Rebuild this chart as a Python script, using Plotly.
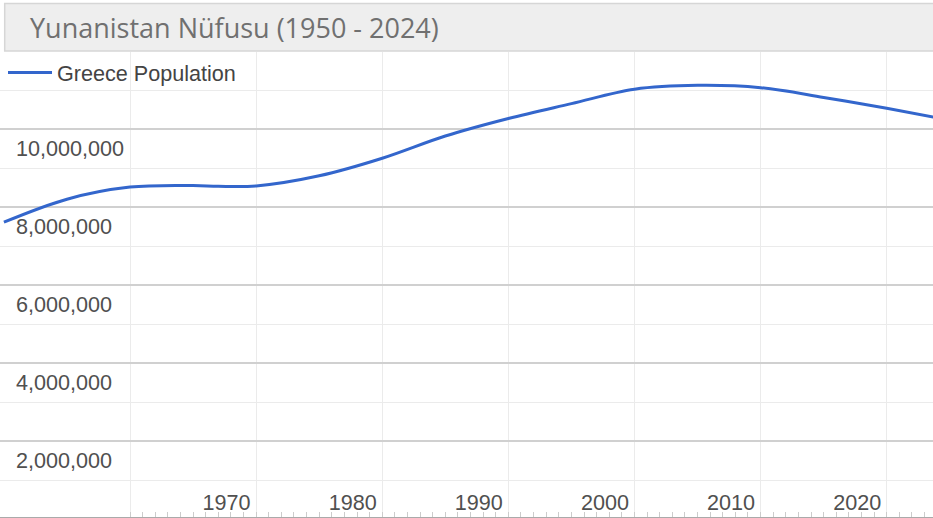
import plotly.graph_objects as go

# Data (Greece population, millions)
years = [1950, 1955, 1960, 1965, 1967, 1970, 1975, 1980, 1985, 1990,
         1995, 2000, 2005, 2010, 2015, 2020, 2024]
population_m = [7.61, 8.20, 8.51, 8.55, 8.53, 8.54, 8.80, 9.25, 9.82, 10.27,
                10.65, 11.02, 11.12, 11.06, 10.81, 10.53, 10.29]
population = [round(v * 1_000_000) for v in population_m]

series_name = "Greece Population"
title_text = "Yunanistan Nüfusu (1950 - 2024)"
x_tick_vals = [1960, 1970, 1980, 1990, 2000, 2010, 2020]
x_tick_text = ["", "1970", "1980", "1990", "2000", "2010", "2020"]

W, H = 933, 518
TOP = 52
BOT = 1
plot_h = H - TOP - BOT
PX_PER_M = 39.0
ZERO_PX = 519.0

def py(p):  # pixel y -> paper y
    return (H - BOT - p) / plot_h

FONT = "Liberation Sans, Arial, sans-serif"
TEXT = "#505050"

fig = go.Figure()
fig.add_trace(go.Scatter(
    x=years, y=population, mode="lines", name=series_name,
    line=dict(color="#3366cc", width=3, shape="spline", smoothing=1.0),
))

fig.update_layout(
    width=W, height=H,
    margin=dict(l=0, r=0, t=TOP, b=BOT, autoexpand=False),
    paper_bgcolor="white", plot_bgcolor="white",
    font=dict(family=FONT, size=21.6, color=TEXT),
    showlegend=True,
    legend=dict(x=3 / W, y=py(52), xanchor="left", yanchor="top",
                bgcolor="rgba(0,0,0,0)", font=dict(size=21.6, color="#444444"),
                itemwidth=44),
    shapes=[dict(type="rect", xref="paper", yref="paper",
                 x0=4.7 / W, x1=1.01, y0=py(51), y1=py(3.5),
                 fillcolor="#eeeeee", line=dict(color="#d6d6d6", width=1.5),
                 layer="above")],
    annotations=[dict(text=title_text, xref="paper", yref="paper",
                      x=28 / W, y=py(27), xanchor="left", yanchor="middle",
                      showarrow=False,
                      font=dict(family="Open Sans, sans-serif", size=27, color="#707070"))],
)

fig.update_xaxes(
    range=[1949.69, 2023.67], automargin=False,
    tickvals=x_tick_vals, ticktext=x_tick_text,
    ticklabelposition="inside left",
    ticks="", showgrid=True, gridcolor="#ebebeb", gridwidth=1,
    showline=True, linecolor="#aaaaaa", linewidth=1,
    tickfont=dict(size=21.6, color=TEXT),
    ticklabelstandoff=1, ticklabelshift=-5,
    minor=dict(dtick=1, tick0=1950, ticks="inside", ticklen=5, tickcolor="#cccccc",
               showgrid=False),
    zeroline=False,
)
fig.update_yaxes(
    range=[(ZERO_PX - (H - BOT)) / PX_PER_M * 1e6, (ZERO_PX - TOP) / PX_PER_M * 1e6],
    automargin=False,
    tick0=0, dtick=2_000_000, tickformat=",d",
    ticklabelposition="inside bottom",
    ticks="", showgrid=True, gridcolor="#d0d0d0", gridwidth=2,
    minor=dict(dtick=1_000_000, showgrid=True, gridcolor="#ebebeb", gridwidth=1),
    tickfont=dict(size=21.6, color=TEXT),
    ticklabelstandoff=13, ticklabelshift=4,
    zeroline=False, showline=False,
)

fig.write_html("out.html", config={"displayModeBar": False},
               post_script="document.body.style.margin='0';document.body.style.padding='0';")
